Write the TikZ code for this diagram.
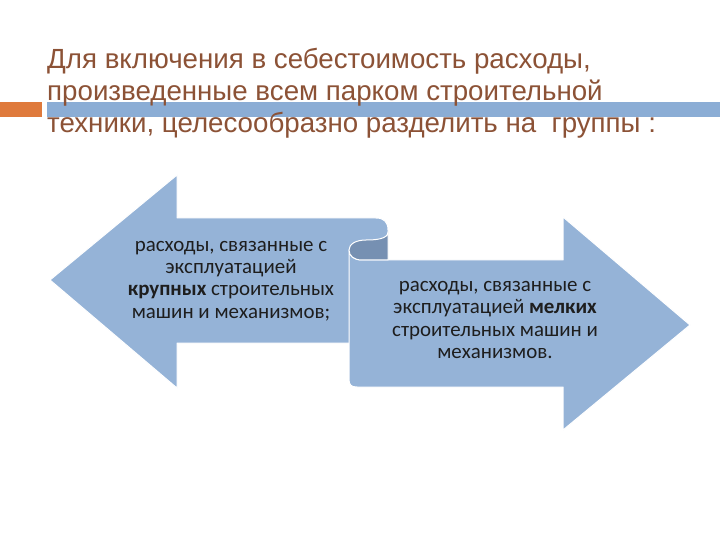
\documentclass[tikz,border=0pt]{standalone}
\usepackage{fontspec}
\setmainfont{Carlito}
\newfontfamily\titlefont{Liberation Sans}
\definecolor{arrowblue}{HTML}{95B3D7}
\definecolor{curlblue}{HTML}{7690B2}
\definecolor{barblue}{HTML}{8BADD5}
\definecolor{barorange}{HTML}{DF7A3C}
\definecolor{titlebrown}{HTML}{8C5236}
\definecolor{bodytext}{HTML}{1E1E1E}
\tikzset{
	bigarrow/.style={fill=arrowblue, draw=white, line width=1bp, line join=round},
	arrowtext/.style={align=center, text=bodytext, font=\fontsize{21}{22.5}\selectfont, inner sep=0pt}
}

\begin{document}
\begin{tikzpicture}[x=1bp,y=-1bp]
				\useasboundingbox[fill=white] (0,0) rectangle (720,540);

				\fill[barorange] (0,102) rectangle (42,117);
				\fill[barblue] (47,102) rectangle (720,117);

				\node[anchor=north west, inner sep=0pt, align=left, text=titlebrown,
					font=\titlefont\fontsize{27.8}{32}\selectfont] (title) at (47,48)
					{Для включения в себестоимость расходы,\\
					произведенные всем парком строительной\\
					техники, целесообразно разделить на~ группы :};

				\draw[bigarrow]
				(50,280) -- (177,175) -- (177,218) -- (376,218)
				.. controls (384,218) and (388,222) .. (388,230)
				-- (388,343) -- (177,343) -- (177,388) -- cycle;

				\draw[bigarrow]
				(349,250) -- (349,379) .. controls (349,385) and (351,387) .. (357,387)
				-- (563,387) -- (563,430) -- (690,325) -- (563,217) -- (563,260)
				-- (362,260) .. controls (354,260) and (349,256) .. (349,250) -- cycle;

				\draw[fill=curlblue, draw=white, line width=1bp, line join=round]
				(388,260) -- (388,232) .. controls (388,239) and (376,240) .. (366,240)
				.. controls (356,240) and (349,244) .. (349,250)
				.. controls (349,256) and (354,260) .. (362,260) -- cycle;

				\node[arrowtext] (large) at (231,281)
				{расходы, связанные с\\ эксплуатацией\\ \textbf{крупных} строительных\\ машин и механизмов;};

				\node[arrowtext] (small) at (495,320)
				{расходы, связанные с\\ эксплуатацией \textbf{мелких}\\ строительных машин и\\ механизмов.};
\end{tikzpicture}
\end{document}
